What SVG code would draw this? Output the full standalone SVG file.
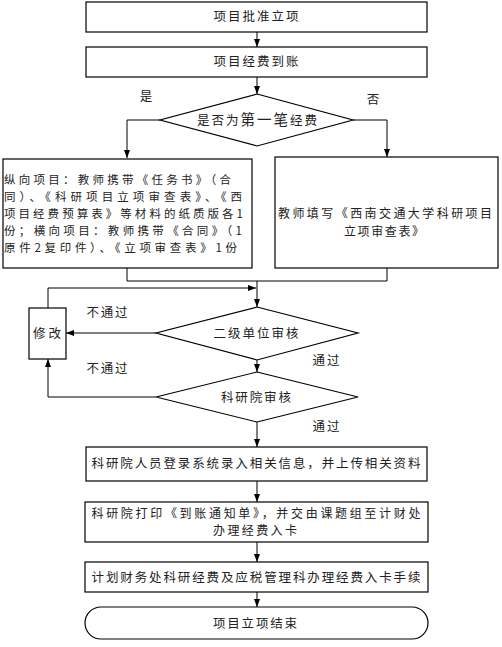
<svg xmlns="http://www.w3.org/2000/svg" width="502" height="647" viewBox="0 0 502 647">
<style>
.b{fill:#fff;stroke:#000;stroke-width:1.2}
.c{fill:none;stroke:#000;stroke-width:1}
text{font-family:"Noto Sans CJK SC","Noto Sans",sans-serif;font-size:12.5px;fill:#222}
.m{text-anchor:middle}
.s{font-size:11.5px}
.t{font-size:12px}
</style>
<defs>
<marker id="a" markerUnits="userSpaceOnUse" viewBox="0 0 8 6" refX="8" refY="3" markerWidth="8" markerHeight="6" orient="auto">
<path d="M0,0 L8,3 L0,6 z" fill="#000"/>
</marker>
</defs>
<g id="connectors">
<line class="c" x1="257" y1="32" x2="257" y2="47" marker-end="url(#a)"/>
<line class="c" x1="257" y1="77" x2="257" y2="94" marker-end="url(#a)"/>
<polyline class="c" points="160,120 127,120 127,158" marker-end="url(#a)"/>
<polyline class="c" points="353,120 387,120 387,157" marker-end="url(#a)"/>
<line class="c" x1="127" y1="268" x2="127" y2="281"/>
<line class="c" x1="387" y1="268" x2="387" y2="281"/>
<line class="c" x1="127" y1="281" x2="387" y2="281"/>
<line class="c" x1="257" y1="281" x2="257" y2="307" marker-end="url(#a)"/>
<polyline class="c" points="48,308 48,288 256,288" marker-end="url(#a)"/>
<line class="c" x1="156" y1="333" x2="66" y2="333" marker-end="url(#a)"/>
<line class="c" x1="257" y1="360" x2="257" y2="372" marker-end="url(#a)"/>
<polyline class="c" points="156,397 48,397 48,359" marker-end="url(#a)"/>
<line class="c" x1="257" y1="422" x2="257" y2="447" marker-end="url(#a)"/>
<line class="c" x1="257" y1="481" x2="257" y2="502" marker-end="url(#a)"/>
<line class="c" x1="257" y1="542" x2="257" y2="562" marker-end="url(#a)"/>
<line class="c" x1="257" y1="592" x2="257" y2="607" marker-end="url(#a)"/>
<text x="146" y="101" class="m">是</text>
<text x="373" y="104" class="m">否</text>
<text x="107" y="317" class="m" textLength="41">不通过</text>
<text x="107" y="373" class="m" textLength="41">不通过</text>
<text x="326" y="365" class="m" textLength="27">通过</text>
<text x="326" y="431" class="m" textLength="27">通过</text>
</g>
<g id="n1">
<rect class="b" x="86" y="2" width="341" height="30"/>
<text x="256" y="21" class="m" textLength="85">项目批准立项</text>
</g>
<g id="n2">
<rect class="b" x="86" y="47" width="341" height="30"/>
<text x="256" y="66" class="m" textLength="85">项目经费到账</text>
</g>
<g id="n3">
<polygon class="b" points="257,94 353,120 257,146 160,120"/>
<text x="257" y="125" class="m" textLength="120">是否为<tspan style="font-size:14.5px">第一笔</tspan>经费</text>
</g>
<g id="n4">
<rect class="b" x="3" y="159" width="249" height="109"/>
<text class="s" x="4" y="184" textLength="227">纵向项目：教师携带《任务书》（合</text>
<text class="s" x="4" y="201" textLength="238">同）、《科研项目立项审查表》、《西</text>
<text class="s" x="4" y="218" textLength="239">项目经费预算表》等材料的纸质版各1</text>
<text class="s" x="4" y="235" textLength="238">份；横向项目：教师携带《合同》（1</text>
<text class="s" x="4" y="252" textLength="233">原件2复印件）、《立项审查表》1份</text>
</g>
<g id="n5">
<rect class="b" x="275" y="157" width="223" height="111"/>
<text x="385" y="218" class="m t" textLength="214">教师填写《西南交通大学科研项目</text>
<text x="384" y="235.5" class="m t" textLength="80">立项审查表》</text>
</g>
<g id="n6">
<rect class="b" x="29" y="308" width="37" height="51"/>
<text x="47" y="338" class="m" textLength="28">修改</text>
</g>
<g id="n7">
<polygon class="b" points="257,307 358,333 257,360 156,333"/>
<text x="256" y="338" class="m" textLength="85">二级单位审核</text>
</g>
<g id="n8">
<polygon class="b" points="257,372 358,397 257,422 156,397"/>
<text x="256" y="402" class="m" textLength="70">科研院审核</text>
</g>
<g id="n9">
<rect class="b" x="86" y="447" width="341" height="34"/>
<text x="256" y="468" class="m" textLength="329">科研院人员登录系统录入相关信息，并上传相关资料</text>
</g>
<g id="n10">
<rect class="b" x="85" y="502" width="343" height="40"/>
<text x="256" y="517.5" class="m t" textLength="329">科研院打印《到账通知单》，并交由课题组至计财处</text>
<text x="255" y="535" class="m t" textLength="84">办理经费入卡</text>
</g>
<g id="n11">
<rect class="b" x="85" y="562" width="343" height="30"/>
<text x="256" y="582" class="m" textLength="329">计划财务处科研经费及应税管理科办理经费入卡手续</text>
</g>
<g id="n12">
<rect class="b" x="85" y="607" width="343" height="32" rx="16" ry="16"/>
<text x="255" y="628" class="m" textLength="84">项目立项结束</text>
</g>
</svg>
